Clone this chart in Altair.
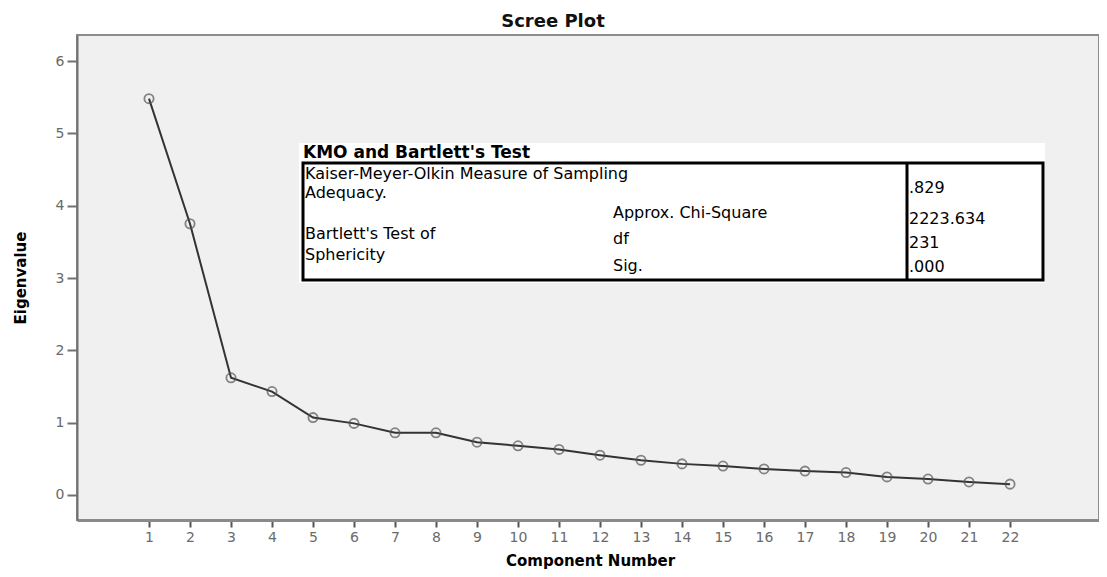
import altair as alt
import pandas as pd

# ---- data ----
components = list(range(1, 23))
eigenvalues = [5.48, 3.75, 1.62, 1.43, 1.07, 0.99, 0.86, 0.86, 0.73, 0.68, 0.63,
               0.55, 0.48, 0.43, 0.40, 0.36, 0.33, 0.31, 0.25, 0.22, 0.18, 0.15]
y_ticks = [0, 1, 2, 3, 4, 5, 6]

table_title = "KMO and Bartlett's Test"
kmo_label = ["Kaiser-Meyer-Olkin Measure of Sampling", "Adequacy."]
bartlett_label = ["Bartlett's Test of", "Sphericity"]
bartlett_stats = ["Approx. Chi-Square", "df", "Sig."]
kmo_value = ".829"
bartlett_values = ["2223.634", "231", ".000"]

df = pd.DataFrame({"Component Number": components, "Eigenvalue": eigenvalues})

W, H = 1022, 485
FONT = "DejaVu Sans"

x_enc = alt.X("Component Number:Q",
              scale=alt.Scale(domain=[-0.756, 24.17], nice=False, zero=False),
              axis=alt.Axis(values=components, format="d", grid=False,
                            title="Component Number", titleX=W / 2 + 2, titleY=40,
                            titleBaseline="middle", titleFontSize=15,
                            titleFontWeight="bold", titleFont=FONT,
                            labelFontSize=14, labelFont=FONT, labelColor="#6a6a6a",
                            tickSize=7, tickWidth=2, tickColor="#555",
                            labelPadding=3, domainColor="#8a8a8a", domainWidth=3))
y_enc = alt.Y("Eigenvalue:Q",
              scale=alt.Scale(domain=[-0.346, 6.36], nice=False, zero=False),
              axis=alt.Axis(values=y_ticks, format="d", grid=False,
                            title="Eigenvalue", titleX=-57, titleY=H / 2,
                            titleAngle=-90, titleAlign="center", titleBaseline="middle",
                            titleFontSize=15, titleFontWeight="bold", titleFont=FONT,
                            labelFontSize=14, labelFont=FONT, labelColor="#6a6a6a",
                            tickSize=10, tickWidth=2, tickColor="#707070",
                            labelPadding=3, domainColor="#707070", domainWidth=2))

base = alt.Chart(df)
line = base.mark_line(color="#333333", strokeWidth=2).encode(x=x_enc, y=y_enc)
points = base.mark_point(shape="circle", filled=False, stroke="#555555",
                         strokeWidth=1.8, size=85).encode(x=x_enc, y=y_enc)


def one(text):
    return alt.Chart(pd.DataFrame({"t": [text]}))


def txt(text, x, y, bold=False, size=16):
    return one(text).mark_text(align="left", baseline="middle", font=FONT,
                               fontSize=size, color="#000000",
                               fontWeight="bold" if bold else "normal").encode(
        text="t:N", x=alt.value(x), y=alt.value(y))


white_bg = one("bg").mark_rect(fill="#ffffff", stroke=None).encode(
    x=alt.value(222), x2=alt.value(968), y=alt.value(108), y2=alt.value(248))
border = one("border").mark_rect(fill="#ffffff", stroke="#000000", strokeWidth=3).encode(
    x=alt.value(226), x2=alt.value(966), y=alt.value(128), y2=alt.value(245))
divider = one("div").mark_rule(stroke="#000000", strokeWidth=3).encode(
    x=alt.value(830), y=alt.value(128), y2=alt.value(245))

texts = [
    txt(table_title, 226, 118, bold=True, size=17),
    txt(kmo_label[0], 228, 139),
    txt(kmo_label[1], 228, 158),
    txt(bartlett_label[0], 228, 199),
    txt(bartlett_label[1], 228, 220),
    txt(bartlett_stats[0], 536, 178),
    txt(bartlett_stats[1], 536, 204),
    txt(bartlett_stats[2], 536, 231),
    txt(kmo_value, 832, 153),
    txt(bartlett_values[0], 832, 184),
    txt(bartlett_values[1], 832, 208),
    txt(bartlett_values[2], 832, 232),
]

chart = alt.layer(line, points, white_bg, border, divider, *texts).properties(
    width=W, height=H,
    title=alt.TitleParams("Scree Plot", fontSize=18, fontWeight="bold", font=FONT,
                          anchor="middle", dx=-35, offset=4, color="#111111"),
    padding={"left": 69, "top": 27, "right": 0, "bottom": 49},
    autosize=alt.AutoSizeParams(type="none"),
).configure_view(fill="#f0f0f0", stroke="#8c8c8c", strokeWidth=2)

chart.save("out.html", embed_options={"renderer": "svg", "actions": False})
